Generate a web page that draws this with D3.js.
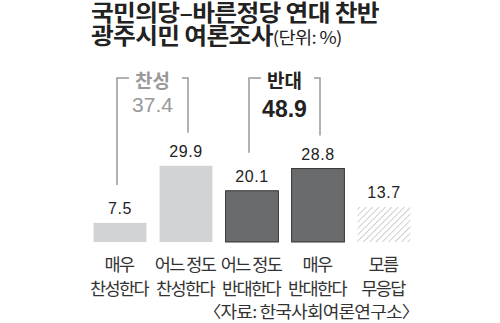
<!DOCTYPE html>
<meta charset="utf-8">
<style>
body { margin: 0; background: #fff; }
svg { display: block; font-family: "Liberation Sans", "Noto Sans CJK KR", sans-serif; }
.ko { font-family: "Noto Sans CJK KR", sans-serif; white-space: pre; }
</style>
<script src="https://d3js.org/d3.v7.min.js"></script>
<body>
<script>
// data
var cats = [["매우", "찬성한다"], ["어느 정도", "찬성한다"], ["어느 정도", "반대한다"], ["매우", "반대한다"], ["모름", "무응답"]];
var values = [7.5, 29.9, 20.1, 28.8, 13.7];
var kinds = ["agree", "agree", "oppose", "oppose", "none"];
var groups = [{label: "찬성", total: "37.4", from: 0, to: 1}, {label: "반대", total: "48.9", from: 2, to: 3}];

var width = 500, height = 323;
var baseline = 242;

var svg = d3.select("body").append("svg")
    .attr("width", width)
    .attr("height", height);

// hatch for no-answer bar
var pat = svg.append("defs").append("pattern")
    .attr("id", "hatch")
    .attr("patternUnits", "userSpaceOnUse")
    .attr("width", 4.5)
    .attr("height", 4.5)
    .attr("patternTransform", "rotate(45)");
pat.append("line")
    .attr("x1", 0).attr("y1", 0).attr("x2", 0).attr("y2", 4.5)
    .attr("stroke", "#b0b0b0")
    .attr("stroke-width", 1.2);

var x = d3.scaleBand()
    .domain(d3.range(values.length))
    .range([87, 417])
    .paddingInner(0.2)
    .paddingOuter(0.1);

var y = d3.scaleLinear()
    .domain([0, 10])
    .range([baseline, baseline - 25.5]);

var fill = {agree: "#d2d3d5", oppose: "#6a6b6d", none: "url(#hatch)"};

// title (stretched a little to match the wide newspaper face)
var title = svg.append("g")
    .attr("transform", "translate(91,0) scale(1.1,1)");
title.append("text")
    .attr("class", "ko")
    .attr("y", 20.5)
    .attr("font-size", 22.5)
    .attr("font-weight", "bold")
    .attr("letter-spacing", -0.6)
    .attr("fill", "#222")
    .text("국민의당–바른정당 연대 찬반");

var t2 = title.append("text")
    .attr("class", "ko")
    .attr("y", 44.5)
    .attr("font-size", 22.5)
    .attr("font-weight", "bold")
    .attr("letter-spacing", -0.6)
    .attr("fill", "#222");
t2.append("tspan").text("광주시민 여론조사");
t2.append("tspan")
    .attr("font-size", 17)
    .attr("font-weight", "normal")
    .attr("letter-spacing", -0.6)
    .text("(단위: %)");

// bars
svg.selectAll(".bar")
    .data(values)
  .enter().append("rect")
    .attr("class", "bar")
    .attr("x", function(d, i) { return x(i); })
    .attr("width", x.bandwidth())
    .attr("y", function(d) { return y(d); })
    .attr("height", function(d) { return baseline - y(d); })
    .attr("fill", function(d, i) { return fill[kinds[i]]; })
    .attr("stroke", function(d, i) { return kinds[i] == "oppose" ? "#333" : "none"; })
    .attr("stroke-width", 1);

// value labels
svg.selectAll(".val")
    .data(values)
  .enter().append("text")
    .attr("class", "val")
    .attr("x", function(d, i) { return x(i) + x.bandwidth() / 2; })
    .attr("y", function(d) { return y(d) - 9; })
    .attr("text-anchor", "middle")
    .attr("font-size", 16)
    .attr("letter-spacing", 0.6)
    .attr("fill", "#222")
    .text(function(d) { return d.toFixed(1); });

// category labels
var cat = svg.selectAll(".cat")
    .data(cats)
  .enter().append("text")
    .attr("class", "ko cat")
    .attr("text-anchor", "middle")
    .attr("font-size", 17.5)
    .attr("letter-spacing", -1.6)
    .attr("fill", "#333");
cat.append("tspan")
    .attr("x", function(d, i) { return x(i) + x.bandwidth() / 2 - 1; })
    .attr("y", 271)
    .text(function(d) { return d[0]; });
cat.append("tspan")
    .attr("x", function(d, i) { return x(i) + x.bandwidth() / 2 - 1; })
    .attr("y", 294.5)
    .text(function(d) { return d[1]; });

// group brackets
var topY = 78;
groups.forEach(function(g, k) {
  var x0 = x(g.from) + x.bandwidth() / 2 - 3;
  var x1 = x(g.to) + x.bandwidth() / 2 + 2;
  var mid = (x0 + x1) / 2;
  var col = k == 0 ? "#999" : "#222";
  var lc = "#999";
  var path = d3.path();
  path.moveTo(x0 + 12, topY);
  path.lineTo(x0, topY);
  path.lineTo(x0, y(values[g.from]) - 38);
  path.moveTo(x1 - 6, topY);
  path.lineTo(x1, topY);
  path.lineTo(x1, y(values[g.to]) - 33);
  svg.append("path")
    .attr("d", path.toString())
    .attr("fill", "none")
    .attr("stroke", lc)
    .attr("stroke-width", 1.5);
  svg.append("text")
    .attr("class", "ko")
    .attr("x", mid)
    .attr("y", 88)
    .attr("text-anchor", "middle")
    .attr("font-size", 19)
    .attr("font-weight", "bold")
    .attr("fill", col)
    .text(g.label);
  svg.append("text")
    .attr("x", mid)
    .attr("y", k == 0 ? 111.5 : 117)
    .attr("text-anchor", "middle")
    .attr("font-size", k == 0 ? 21 : 23)
    .attr("font-weight", k == 0 ? "normal" : "bold")
    .attr("fill", col)
    .text(g.total);
});

// source
svg.append("g")
    .attr("transform", "translate(419,318) scale(1.1,1)")
  .append("text")
    .attr("class", "ko")
    .attr("text-anchor", "end")
    .attr("font-size", 16.5)
    .attr("letter-spacing", -0.8)
    .attr("fill", "#333")
    .text("〈자료: 한국사회여론연구소〉");
</script>
